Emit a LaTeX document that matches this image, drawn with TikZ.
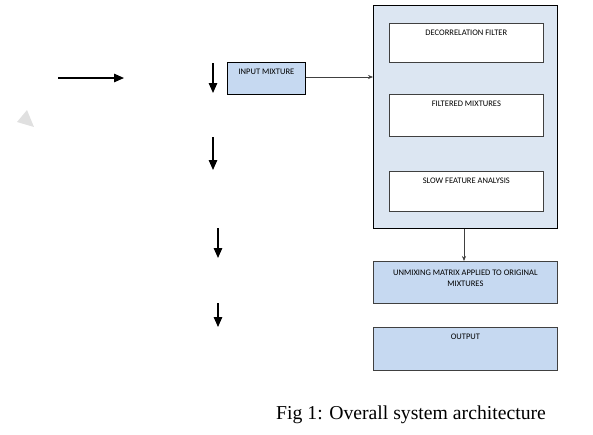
\documentclass[tikz,border=0pt]{standalone}
\usepackage{fontspec}
\setmainfont{Liberation Serif}
\newfontfamily\boxfont{Carlito}
\usepackage{xcolor}
\usepackage{tikz}
\usetikzlibrary{arrows.meta,positioning}
\definecolor{cBoxBg}{RGB}{198,217,241}
\definecolor{cOuterBg}{RGB}{220,230,242}
\definecolor{cEdge}{RGB}{ 64, 64, 64}
\definecolor{cGhost}{RGB}{224,224,224}
\tikzset{
  box/.style    ={draw=black,fill=cBoxBg,line width=0.8pt,inner sep=0pt},
  outer/.style  ={box,fill=cOuterBg},
  inner/.style  ={draw=cEdge,fill=white,line width=0.7pt,inner sep=0pt},
  txt/.style    ={font=\boxfont\fontsize{8.5}{11}\selectfont,align=center,inner sep=0pt},
  fl/.style     ={-{Stealth[length=5pt,width=4pt]},draw=cEdge,line width=0.6pt},
  big/.style    ={-{Triangle[length=10pt,width=8.5pt]},line width=1.3pt},
}
\begin{document}
\begin{tikzpicture}[x=1pt,y=-1pt]
\useasboundingbox (0,0) rectangle (593,434);

%% free arrows on the left
\draw[big] (58,78) -- (124,78);
\fill[cGhost] (17,122) -- (27,110) -- (34,127) -- cycle;
\draw[big] (213,63) -- (213,93);
\draw[big] (213,137) -- (213,170);
\draw[big] (218,228) -- (218,258);
\draw[big] (218,303) -- (218,327);

%% input
\node[box,minimum width=78pt,minimum height=32pt,anchor=north west] (inp) at (227,62) {};
\node[txt,below=7pt of inp.north] (inpT) {INPUT MIXTURE};

%% outer block with its three stages
\node[outer,minimum width=184pt,minimum height=223pt,anchor=north west] (sys) at (373,5) {};
\node[inner,minimum width=154pt,minimum height=39pt,anchor=north west] (dec) at (389,23) {};
\node[inner,minimum width=154pt,minimum height=42pt,anchor=north west] (flt) at (389,94) {};
\node[inner,minimum width=154pt,minimum height=40pt,anchor=north west] (sfa) at (389,171) {};
\node[txt,below=7pt of dec.north] (decT) {DECORRELATION FILTER};
\node[txt,below=7pt of flt.north] (fltT) {FILTERED MIXTURES};
\node[txt,below=7pt of sfa.north] (sfaT) {SLOW FEATURE ANALYSIS};

%% results
\node[box,draw=cEdge,minimum width=184pt,minimum height=42pt,anchor=north west] (unm) at (373,261) {};
\node[box,draw=cEdge,minimum width=184pt,minimum height=43pt,anchor=north west] (out) at (373,327) {};
\node[txt,below=9pt of unm.north] (unmT) {UNMIXING MATRIX APPLIED TO ORIGINAL\\MIXTURES};
\node[txt,below=7pt of out.north] (outT) {OUTPUT};

\draw[fl] (inp.east |- 0,77) -- (sys.west |- 0,77);
\draw[fl] (sys.south -| 464,0) -- (unm.north -| 464,0);

%% caption
\node[anchor=base west,inner sep=0pt,font=\fontsize{19.7}{23}\selectfont] (cap) at (276,419) {Fig 1: Overall system architecture};

\end{tikzpicture}
\end{document}
